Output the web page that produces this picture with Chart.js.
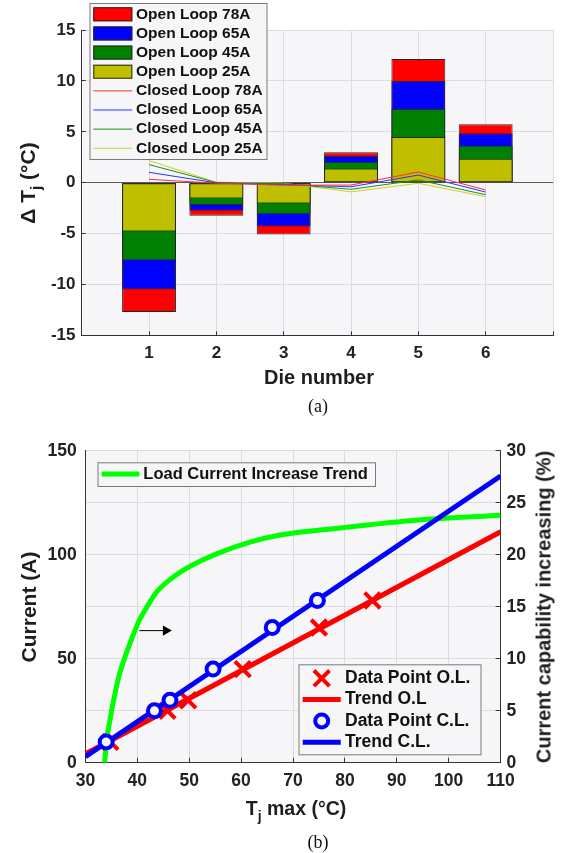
<!DOCTYPE html>
<html>
<head>
<meta charset="utf-8">
<title>Die temperature difference and current capability</title>
<script src="https://cdn.jsdelivr.net/npm/chart.js@4.4.1/dist/chart.umd.min.js"></script>
<style>
  body { margin: 0; background: #fff; }
  .figure { position: relative; width: 565px; height: 853px; overflow: hidden; }
  canvas { position: absolute; left: 0; }
  .label {
    position: absolute; white-space: nowrap; color: #1e1e1e;
    font: bold 20px "Liberation Sans", Arial, sans-serif; line-height: 1.15;
    transform: translate(-50%, -50%);
  }
  .label.up { transform: translate(-50%, -50%) rotate(-90deg); }
  .label .sub { font-size: 72%; position: relative; top: 0.4em; }
  .caption {
    position: absolute; color: #111; line-height: 1.15;
    font: 18px "Liberation Serif", "Times New Roman", serif;
    transform: translate(-50%, -50%);
  }
</style>
</head>
<body>
<div class="figure">
  <canvas id="die-chart" width="565" height="395" style="top:0; width:565px; height:395px"></canvas>
  <canvas id="tj-chart" width="565" height="395" style="top:420px; width:565px; height:395px"></canvas>

  <div class="label up" style="left:27.5px; top:182.5px; font-size:21px">Δ T<span class="sub">j</span> (°C)</div>
  <div class="label" style="left:319px; top:377px">Die number</div>
  <div class="caption" style="left:318px; top:406px">(a)</div>

  <div class="label up" style="left:29px; top:606.7px; font-size:21px">Current (A)</div>
  <div class="label up" style="left:544px; top:606.7px">Current capability increasing (%)</div>
  <div class="label" style="left:296px; top:808px; font-size:19.5px">T<span class="sub">j</span> max (°C)</div>
  <div class="caption" style="left:318px; top:842px">(b)</div>
</div>

<script>
// (a) junction temperature difference per die
const dieNumbers = [1, 2, 3, 4, 5, 6];
const openLoop78 = [-12.7, -3.25, -5.1, 3.0, 12.15, 5.75];
const openLoop65 = [-10.5, -2.75, -4.3, 2.65, 10.0, 4.85];
const openLoop45 = [-7.65, -2.2, -3.1, 2.05, 7.25, 3.65];
const openLoop25 = [-4.8, -1.55, -2.05, 1.4, 4.5, 2.35];
const closedLoop78 = [0.33, -0.05, -0.25, -0.23, 1.05, -0.72];
const closedLoop65 = [1.02, -0.02, -0.2, -0.4, 0.75, -0.92];
const closedLoop45 = [1.78, 0.02, -0.1, -0.65, 0.27, -1.18];
const closedLoop25 = [2.17, 0.05, -0.05, -0.9, -0.06, -1.37];

// (b) current vs. max junction temperature
const tjOpen = [34.8, 45.8, 49.8, 60.3, 75.0, 85.3];
const currentOpen = [10, 25, 30, 45, 65, 78];
const tjClosed = [34.0, 43.3, 46.3, 54.6, 66.0, 74.7];
const currentClosed = [10, 25, 30, 45, 65, 78];
const trendTj = [30, 110];
const trendOpen = [4.2, 111];
const trendClosed = [2.9, 137.8];
const gainTj = [33.7, 34.1, 34.7, 35.4, 36.3, 37.3, 38.3, 40.3, 42.0, 43.7, 47.9, 51.0, 55.4, 61.7, 67.5, 79.7, 95.8, 110];
const gainPercent = [0, 2.2, 4.0, 5.9, 8.0, 9.7, 11.1, 13.6, 15.1, 16.4, 18.2, 19.1, 20.1, 21.2, 21.9, 22.6, 23.4, 23.8];
const arrowTj = [40.4, 45.5];
const arrowCurrent = [63.5, 63.5];

const FONT = '"Liberation Sans", Arial, sans-serif';
const PLOT_FILL = '#f6f6f8';
const GRID = '#dcdce0';
const AXIS = '#333333';
const TEXT = '#222222';

Chart.defaults.font.family = FONT;

const pairs = (xs, ys) => xs.map((x, i) => ({ x, y: ys[i] }));

// light panel behind the axes
const plotBackground = color => ({
  id: 'plotBackground',
  beforeDraw(chart) {
    const { ctx, chartArea: a } = chart;
    ctx.save();
    ctx.fillStyle = color;
    ctx.fillRect(a.left, a.top, a.width, a.height);
    ctx.restore();
  },
});

function drawSample(ctx, ds, s, y) {
  const mid = s.x + s.w / 2;
  ctx.strokeStyle = ds.borderColor;
  if (ds.type === 'bar') {
    ctx.fillStyle = ds.backgroundColor;
    ctx.fillRect(s.x, y - s.h / 2, s.w, s.h);
    ctx.lineWidth = 1;
    ctx.strokeRect(s.x + 0.5, y - s.h / 2 + 0.5, s.w - 1, s.h - 1);
  } else if (ds.showLine === false) {
    ctx.lineWidth = ds.borderWidth;
    ctx.beginPath();
    if (ds.pointStyle === 'crossRot') {
      const d = ds.pointRadius * Math.SQRT1_2;
      ctx.moveTo(mid - d, y - d); ctx.lineTo(mid + d, y + d);
      ctx.moveTo(mid + d, y - d); ctx.lineTo(mid - d, y + d);
    } else {
      ctx.arc(mid, y, ds.pointRadius, 0, Math.PI * 2);
    }
    ctx.stroke();
  } else {
    ctx.lineWidth = ds.borderWidth;
    ctx.beginPath();
    ctx.moveTo(s.x, y);
    ctx.lineTo(s.x + s.w, y);
    ctx.stroke();
  }
}

// boxed legends laid over the plot
const boxLegend = boxes => ({
  id: 'boxLegend',
  afterDraw(chart) {
    const { ctx } = chart;
    boxes.forEach(b => {
      ctx.save();
      ctx.fillStyle = PLOT_FILL;
      ctx.fillRect(b.x, b.y, b.w, b.h);
      ctx.strokeStyle = '#7a7a7a';
      ctx.lineWidth = 1;
      ctx.strokeRect(b.x + 0.5, b.y + 0.5, b.w, b.h);
      b.items.forEach((index, i) => {
        const ds = chart.data.datasets[index];
        const y = b.firstRow + i * b.rowGap;
        drawSample(ctx, ds, b.sample, y);
        ctx.fillStyle = '#111';
        ctx.font = `bold ${b.fontSize}px ${FONT}`;
        ctx.textBaseline = 'middle';
        ctx.textAlign = 'left';
        ctx.fillText(ds.label, b.textX, y);
      });
      ctx.restore();
    });
  },
});

const openBar = (label, values, color, order) => ({
  type: 'bar',
  label,
  data: pairs(dieNumbers, values),
  backgroundColor: color,
  borderColor: '#262626',
  borderWidth: 1,
  borderSkipped: false,
  grouped: false,
  barPercentage: 0.8,
  categoryPercentage: 1,
  order,
});

const closedTrace = (label, values, color) => ({
  type: 'line',
  label,
  data: pairs(dieNumbers, values),
  borderColor: color,
  borderWidth: 1,
  pointRadius: 0,
  tension: 0,
  fill: false,
  order: 0,
});

const dieChart = () => {
  const ctx = document.getElementById('die-chart');
  if (!ctx) return;
  const tickFont = { size: 17, weight: 'bold' };

  new Chart(ctx, {
    type: 'bar',
    data: {
      datasets: [
        openBar('Open Loop 78A', openLoop78, '#ff0000', 4),
        openBar('Open Loop 65A', openLoop65, '#0000ff', 3),
        openBar('Open Loop 45A', openLoop45, '#008000', 2),
        openBar('Open Loop 25A', openLoop25, '#bfbf00', 1),
        closedTrace('Closed Loop 78A', closedLoop78, '#ff3030'),
        closedTrace('Closed Loop 65A', closedLoop65, '#3030ff'),
        closedTrace('Closed Loop 45A', closedLoop45, '#1a8f1a'),
        closedTrace('Closed Loop 25A', closedLoop25, '#d0d020'),
      ],
    },
    options: {
      responsive: false,
      animation: false,
      devicePixelRatio: 1,
      layout: { padding: { top: 30.1, right: 8.3, left: 0, bottom: 0 } },
      plugins: {
        legend: { display: false },
        tooltip: { enabled: false },
      },
      scales: {
        x: {
          type: 'linear',
          min: 0,
          max: 7,
          offset: false,
          ticks: {
            stepSize: 1,
            padding: 12,
            color: TEXT,
            font: tickFont,
            callback: v => (dieNumbers.includes(v) ? String(v) : ''),
          },
          grid: { offset: false, color: GRID, tickColor: AXIS, tickLength: -4 },
          border: { color: AXIS },
          afterFit: s => { s.height = 59.7; },
        },
        y: {
          min: -15,
          max: 15,
          ticks: { stepSize: 5, padding: 10.2, color: TEXT, font: tickFont },
          grid: {
            color: c => (c.tick && c.tick.value === 0 ? '#5a5a5a' : GRID),
            tickColor: AXIS,
            tickLength: -4,
          },
          border: { color: AXIS },
          afterFit: s => { s.width = 81.7; },
        },
      },
    },
    plugins: [
      plotBackground(PLOT_FILL),
      boxLegend([{
        x: 89.5, y: 3, w: 177, h: 156,
        items: [0, 1, 2, 3, 4, 5, 6, 7],
        firstRow: 14.3, rowGap: 19.14,
        sample: { x: 93.3, w: 39, h: 14 },
        textX: 136, fontSize: 15.5,
      }]),
    ],
  });
};

const tjChart = () => {
  const ctx = document.getElementById('tj-chart');
  if (!ctx) return;
  const tickFont = { size: 17.5, weight: 'bold' };

  new Chart(ctx, {
    type: 'line',
    data: {
      datasets: [
        {
          label: 'Data Point O.L.',
          data: pairs(tjOpen, currentOpen),
          showLine: false,
          pointStyle: 'crossRot',
          pointRadius: 11,
          borderColor: '#ff0000',
          borderWidth: 4,
          yAxisID: 'y',
          order: 2,
        },
        {
          label: 'Trend O.L',
          data: pairs(trendTj, trendOpen),
          borderColor: '#ff0000',
          borderWidth: 5,
          pointRadius: 0,
          yAxisID: 'y',
          order: 3,
        },
        {
          label: 'Data Point C.L.',
          data: pairs(tjClosed, currentClosed),
          showLine: false,
          pointStyle: 'circle',
          pointRadius: 6.5,
          borderColor: '#0000ff',
          backgroundColor: PLOT_FILL,
          borderWidth: 4,
          yAxisID: 'y',
          order: 0,
        },
        {
          label: 'Trend C.L.',
          data: pairs(trendTj, trendClosed),
          borderColor: '#0000ff',
          borderWidth: 5,
          pointRadius: 0,
          yAxisID: 'y',
          order: 1,
        },
        {
          label: 'Load Current Increase Trend',
          data: pairs(gainTj, gainPercent),
          borderColor: '#00ff00',
          borderWidth: 5,
          pointRadius: 0,
          cubicInterpolationMode: 'monotone',
          yAxisID: 'y1',
          order: 4,
        },
        {
          // arrow pointing at the right-hand axis
          label: 'axis marker',
          data: pairs(arrowTj, arrowCurrent),
          borderColor: '#000',
          backgroundColor: '#000',
          borderWidth: 1,
          pointRadius: [0, 6],
          pointBorderWidth: 0,
          pointStyle: 'triangle',
          rotation: 90,
          yAxisID: 'y',
          order: 5,
        },
      ],
    },
    options: {
      responsive: false,
      animation: false,
      devicePixelRatio: 1,
      layout: { padding: { top: 30.7, right: 0, left: 0, bottom: 0 } },
      plugins: {
        legend: { display: false },
        tooltip: { enabled: false },
      },
      scales: {
        x: {
          type: 'linear',
          min: 30,
          max: 110,
          ticks: { stepSize: 10, padding: 13.2, color: TEXT, font: tickFont },
          grid: { color: GRID, tickColor: AXIS, tickLength: -5 },
          border: { color: AXIS },
          afterFit: s => { s.height = 52.3; },
        },
        y: {
          position: 'left',
          min: 0,
          max: 150,
          ticks: { stepSize: 50, padding: 13.7, color: TEXT, font: tickFont },
          grid: { color: GRID, tickColor: AXIS, tickLength: -5 },
          border: { color: AXIS },
          afterFit: s => { s.width = 85.4; },
        },
        y1: {
          position: 'right',
          min: 0,
          max: 30,
          ticks: { stepSize: 5, padding: 11, color: TEXT, font: tickFont },
          grid: { color: GRID, tickColor: AXIS, tickLength: -5 },
          border: { color: AXIS },
          afterFit: s => { s.width = 64.4; },
        },
      },
    },
    plugins: [
      plotBackground(PLOT_FILL),
      boxLegend([
        {
          x: 97.5, y: 42.3, w: 277.5, h: 23.7,
          items: [4],
          firstRow: 54, rowGap: 0,
          sample: { x: 101.7, w: 37.6, h: 0 },
          textX: 143.3, fontSize: 16.5,
        },
        {
          x: 298.5, y: 244.3, w: 182, h: 90,
          items: [0, 1, 2, 3],
          firstRow: 258.3, rowGap: 21.3,
          sample: { x: 302.7, w: 38, h: 0 },
          textX: 345, fontSize: 17.5,
        },
      ]),
    ],
  });
};

dieChart();
tjChart();
</script>
</body>
</html>
